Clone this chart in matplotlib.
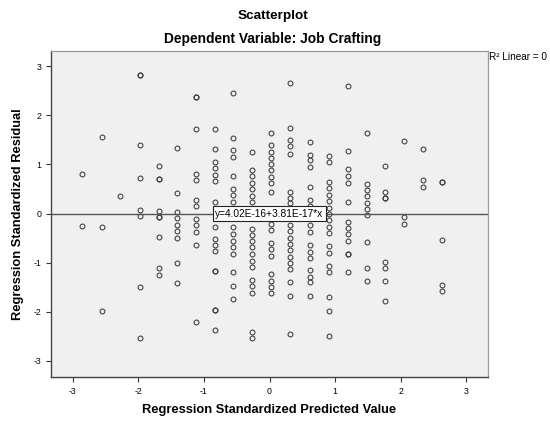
"""SPSS-style residual scatterplot for Job Crafting regression."""

import matplotlib
matplotlib.use("Agg")
import matplotlib.pyplot as plt

plt.rcParams["font.family"] = ["Liberation Sans", "DejaVu Sans"]
plt.rcParams["axes.unicode_minus"] = False

# predicted value levels (standardized), one per column of points
pred_levels = [-2.85, -2.56, -2.28, -1.98, -1.69, -1.41, -1.12, -0.83, -0.55, -0.26,
               0.03, 0.32, 0.61, 0.90, 1.19, 1.48, 1.76, 2.05, 2.34, 2.63]

# standardized residuals in each column
resid_00 = [0.80, -0.25]
resid_01 = [1.56, -0.27, -1.98]
resid_02 = [0.36]
resid_03 = [2.83, 2.83, 1.39, 0.73, 0.07, -0.05, -1.50, -2.54]
resid_04 = [0.97, 0.71, 0.71, 0.06, -0.07, -0.07, -0.47, -1.12, -1.26]
resid_05 = [1.34, 0.42, 0.03, -0.10, -0.23, -0.36, -0.49, -1.01, -1.41]
resid_06 = [2.37, 2.37, 1.72, 0.81, 0.69, 0.28, 0.16, -0.11, -0.24, -0.37, -0.64, -2.21]
resid_07 = [1.72, 1.32, 1.05, 0.92, 0.79, 0.66, 0.24, -0.27, -0.51, -0.64, -0.77,
            -1.18, -1.18, -1.97, -1.97, -2.38]
resid_08 = [2.46, 1.54, 1.30, 1.16, 0.76, 0.50, 0.37, 0.24, 0.10, -0.27, -0.41,
            -0.55, -0.68, -0.82, -1.20, -1.48, -1.74]
resid_09 = [1.26, 0.89, 0.76, 0.63, 0.49, 0.36, 0.23, -0.31, -0.43, -0.56, -0.68,
            -0.82, -0.96, -1.09, -1.35, -1.48, -1.62, -2.41, -2.54]
resid_10 = [1.63, 1.40, 1.26, 1.13, 1.00, 0.88, 0.75, 0.62, 0.44, 0.07, -0.07,
            -0.21, -0.34, -0.60, -0.73, -0.86, -1.24, -1.37, -1.49, -1.61]
resid_11 = [2.66, 1.74, 1.50, 1.37, 1.22, 0.44, 0.31, 0.22, -0.10, -0.23, -0.36,
            -0.49, -0.62, -0.75, -0.88, -1.01, -1.14, -1.40, -1.67, -2.46]
resid_12 = [1.46, 1.20, 1.08, 0.94, 0.55, 0.28, 0.15, -0.10, -0.24, -0.38, -0.65,
            -0.78, -0.90, -1.16, -1.29, -1.40, -1.69]
resid_13 = [1.17, 1.04, 0.65, 0.52, 0.38, 0.25, 0.11, -0.01, -0.14, -0.27, -0.40,
            -0.67, -0.80, -1.06, -1.19, -1.71, -1.98, -2.49]
resid_14 = [2.59, 1.28, 0.90, 0.76, 0.63, 0.23, -0.17, -0.29, -0.41, -0.55, -0.82,
            -0.82, -1.20]
resid_15 = [1.65, 0.61, 0.48, 0.35, 0.22, 0.09, -0.04, -0.58, -1.11, -1.37]
resid_16 = [0.97, 0.44, 0.31, 0.31, -0.98, -1.10, -1.38, -1.78]
resid_17 = [1.48, -0.08, -0.21]
resid_18 = [1.32, 0.68, 0.55]
resid_19 = [0.65, 0.65, -0.53, -1.45, -1.57]

resid_columns = [resid_00, resid_01, resid_02, resid_03, resid_04, resid_05, resid_06,
                 resid_07, resid_08, resid_09, resid_10, resid_11, resid_12, resid_13,
                 resid_14, resid_15, resid_16, resid_17, resid_18, resid_19]

# fit line y = a + b*x
fit_intercept = 4.02e-16
fit_slope = 3.81e-17
fit_label = "y=4.02E-16+3.81E-17*x"
r2_label = "R² Linear = 0"

ticks = [-3, -2, -1, 0, 1, 2, 3]

fig = plt.figure(figsize=(5.5, 4.21), dpi=100)
ax = fig.add_axes([51 / 550, 44 / 421, 437 / 550, 326 / 421])
ax.set_facecolor("#f0f0f0")

xs, ys = [], []
for level, col in zip(pred_levels, resid_columns):
    xs += [level] * len(col)
    ys += col
ax.plot(xs, ys, linestyle="none", marker="o", markersize=3.5,
        markerfacecolor="none", markeredgecolor="#3a3a3a", markeredgewidth=0.75)

xlim = (-3.33, 3.33)
ax.plot(xlim, [fit_intercept + fit_slope * v for v in xlim], color="#555555", lw=1.0)
ax.text(0.0, 0.0, fit_label, ha="center", va="center", fontsize=7.3,
        bbox=dict(boxstyle="square,pad=0.22", facecolor="white", edgecolor="#222222", lw=0.8))

ax.set_xlim(xlim)
ax.set_ylim(-3.33, 3.31)
ax.set_xticks(ticks)
ax.set_yticks(ticks)
ax.tick_params(labelsize=6.3, length=3.5, width=0.8, color="#333333", direction="out")

for side in ("top", "right"):
    ax.spines[side].set_color("#9a9a9a")
    ax.spines[side].set_linewidth(0.9)
for side in ("left", "bottom"):
    ax.spines[side].set_color("#444444")
    ax.spines[side].set_linewidth(1.0)

fig.text(273 / 550, 1 - 16 / 421, "Scatterplot", ha="center", va="center",
         fontsize=9.7, fontweight="bold")
fig.text(273 / 550, 1 - 39 / 421, "Dependent Variable: Job Crafting", ha="center",
         va="center", fontsize=9.9, fontweight="bold")
fig.text(489 / 550, 1 - 57 / 421, r2_label, ha="left", va="center", fontsize=7.2)

fig.text(269 / 550, 1 - 410 / 421, "Regression Standardized Predicted Value",
         ha="center", va="center", fontsize=9.3, fontweight="bold")
fig.text(18 / 550, 1 - 214 / 421, "Regression Standardized Residual", ha="center",
         va="center", rotation=90, fontsize=9.3, fontweight="bold")

fig.savefig("out.png", dpi=100)
